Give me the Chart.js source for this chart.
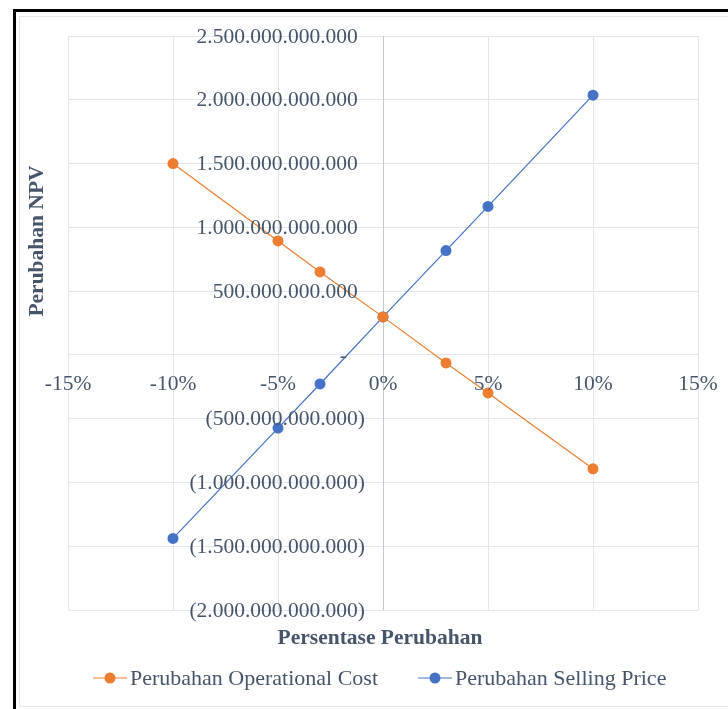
<!DOCTYPE html>
<html>
<head>
<meta charset="utf-8">
<script src="https://cdn.jsdelivr.net/npm/chart.js@4/dist/chart.umd.min.js"></script>
<style>
html,body{margin:0;padding:0;background:#fff;}
#wrap{width:728px;height:709px;position:relative;}
</style>
</head>
<body>
<div id="wrap"><canvas id="c" width="728" height="709"></canvas></div>
<script>
// ---- data ----
const xPercent = [-10, -5, -3, 0, 3, 5, 10];
const operationalCost = [1500000000000, 893000000000, 650000000000, 298000000000, -63000000000, -298000000000, -893000000000];
const sellingPrice = [-1439000000000, -574000000000, -228000000000, 298000000000, 818000000000, 1164000000000, 2036000000000];
const seriesNames = ['Perubahan Operational Cost', 'Perubahan Selling Price'];
const xTickValues = [-15, -10, -5, 0, 5, 10, 15];
const yTickValues = [2500000000000, 2000000000000, 1500000000000, 1000000000000, 500000000000, 0, -500000000000, -1000000000000, -1500000000000, -2000000000000];
const xTitle = 'Persentase Perubahan';
const yTitle = 'Perubahan NPV';

const ORANGE = '#ED7D31', BLUE = '#4472C4', TEXT = '#465569';
const FONT = '"Liberation Serif", "Times New Roman", serif';

function fmtNum(v) {
  if (v === 0) return '-';
  const s = Math.abs(v).toString().replace(/\B(?=(\d{3})+(?!\d))/g, '.');
  return v < 0 ? '(' + s + ')' : s;
}
function toPts(ys) { return xPercent.map((x, i) => ({x: x, y: ys[i]})); }

const decor = {
  id: 'decor',
  beforeDraw(chart) {
    const ctx = chart.ctx;
    ctx.save();
    ctx.fillStyle = '#fff';
    ctx.fillRect(0, 0, chart.width, chart.height);
    ctx.strokeStyle = '#E6E8EC';
    ctx.lineWidth = 1;
    ctx.strokeRect(19.5, 16.5, 720, 690);
    ctx.fillStyle = '#000';
    ctx.fillRect(13, 9, 728, 3);
    ctx.fillRect(13, 9, 3, 709);
    ctx.restore();
  },
  beforeDatasetsDraw(chart) {
    const ctx = chart.ctx;
    const xs = chart.scales.x;
    const x0 = Math.round(xs.getPixelForValue(0)) + 0.5;
    ctx.save();
    ctx.strokeStyle = '#C3C9D2';
    ctx.lineWidth = 1;
    ctx.beginPath();
    ctx.moveTo(x0, chart.chartArea.top); ctx.lineTo(x0, chart.chartArea.bottom);
    ctx.stroke();
    ctx.restore();
  },
  afterDraw(chart) {
    const ctx = chart.ctx;
    const xs = chart.scales.x, ys = chart.scales.y;
    const x0 = xs.getPixelForValue(0), y0 = ys.getPixelForValue(0);
    ctx.save();
    ctx.fillStyle = TEXT;
    ctx.font = '21.5px ' + FONT;
    ctx.textBaseline = 'middle';
    ctx.textAlign = 'right';
    const parenW = ctx.measureText(')').width;
    yTickValues.forEach(v => {
      const lbl = fmtNum(v);
      const py = ys.getPixelForValue(v);
      let right = x0 - 18;
      if (v > 0) right -= parenW;
      if (v === 0) right -= 18;
      ctx.fillText(lbl, right, py + 1);
    });
    ctx.textAlign = 'center';
    xTickValues.forEach(v => {
      ctx.fillText(v + '%', xs.getPixelForValue(v), y0 + 29);
    });
    ctx.font = 'bold 21.5px ' + FONT;
    ctx.fillText(xTitle, 380, 638);
    ctx.save();
    ctx.translate(37, 241);
    ctx.rotate(-Math.PI / 2);
    ctx.fillText(yTitle, 0, 0);
    ctx.restore();
    ctx.font = '22px ' + FONT;
    ctx.textAlign = 'left';
    const items = [
      {x: 93, color: ORANGE, name: chart.data.datasets[0].label},
      {x: 418, color: BLUE, name: chart.data.datasets[1].label}
    ];
    const ly = 678;
    items.forEach(it => {
      ctx.strokeStyle = it.color;
      ctx.lineWidth = 1.2;
      ctx.beginPath();
      ctx.moveTo(it.x, ly); ctx.lineTo(it.x + 34, ly);
      ctx.stroke();
      ctx.fillStyle = it.color;
      ctx.beginPath();
      ctx.arc(it.x + 17, ly, 5.5, 0, Math.PI * 2);
      ctx.fill();
      ctx.fillStyle = TEXT;
      ctx.fillText(it.name, it.x + 37, ly + 1);
    });
    ctx.restore();
  }
};

new Chart(document.getElementById('c'), {
  type: 'scatter',
  data: {
    datasets: [
      {label: seriesNames[0], data: toPts(operationalCost), showLine: true, borderColor: ORANGE, backgroundColor: ORANGE, borderWidth: 1.2, pointRadius: 5.5, pointBorderWidth: 0},
      {label: seriesNames[1], data: toPts(sellingPrice), showLine: true, borderColor: BLUE, backgroundColor: BLUE, borderWidth: 1.2, pointRadius: 5.5, pointBorderWidth: 0}
    ]
  },
  options: {
    responsive: false,
    animation: false,
    events: [],
    layout: {padding: {left: 68, right: 30, top: 36, bottom: 99}},
    plugins: {legend: {display: false}, tooltip: {enabled: false}},
    scales: {
      x: {
        type: 'linear', min: -15, max: 15,
        ticks: {display: false, stepSize: 5},
        grid: {color: '#E3E6EB', drawTicks: false, lineWidth: 1},
        border: {display: false}
      },
      y: {
        type: 'linear', min: -2000000000000, max: 2500000000000,
        ticks: {display: false, stepSize: 500000000000},
        grid: {color: '#E3E6EB', drawTicks: false, lineWidth: 1},
        border: {display: false}
      }
    }
  },
  plugins: [decor]
});
</script>
</body>
</html>
